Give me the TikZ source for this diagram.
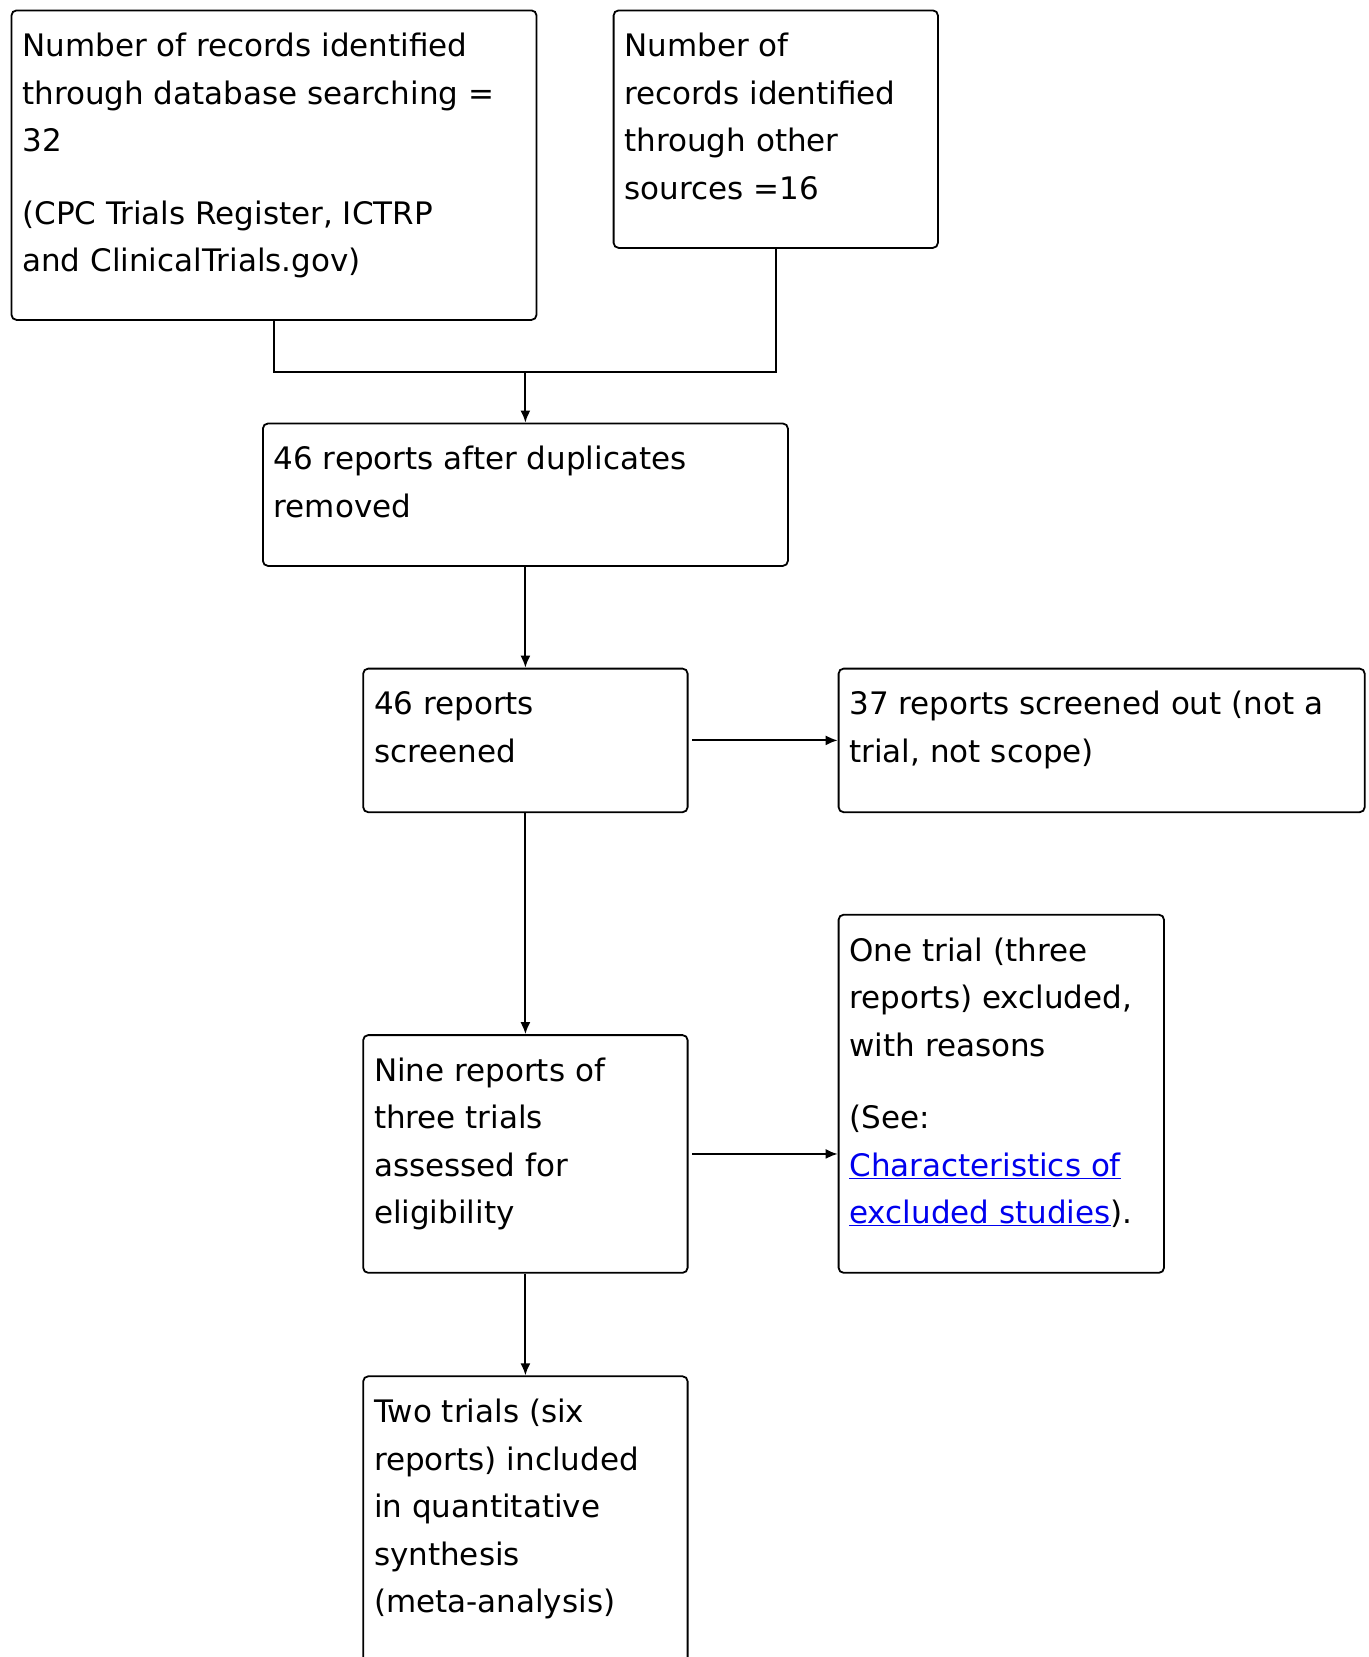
\documentclass[tikz,border=0pt]{standalone}
\usepackage{fontspec}
\setmainfont{DejaVu Sans}
\usetikzlibrary{arrows.meta}
\definecolor{linkblue}{RGB}{0,0,238}
\begin{document}
\begin{tikzpicture}[x=1pt,y=-1pt,
  box/.style={draw, line width=1.8pt, rounded corners=5pt, inner sep=0pt, anchor=north west},
  txt/.style={anchor=north west, inner sep=0pt, align=left, font=\fontsize{31}{47.5}\selectfont},
  conn/.style={line width=2pt},
  arr/.style={line width=2pt, -{Latex[length=12pt,width=10pt]}}]
\useasboundingbox (0,0) rectangle (1368,1657);
\clip (0,0) rectangle (1368,1657);

\node[box, minimum width=525pt,   minimum height=309.5pt] (b1) at (10.6,9.5) {};
\node[box, minimum width=324.3pt, minimum height=237.5pt] (b2) at (612.7,9.5) {};
\node[box, minimum width=525pt,   minimum height=142.4pt] (b3) at (262,422.6) {};
\node[box, minimum width=324.4pt, minimum height=143.6pt] (b4) at (362.3,667.7) {};
\node[box, minimum width=526.1pt, minimum height=143.6pt] (b5) at (837.7,667.7) {};
\node[box, minimum width=324.4pt, minimum height=237.7pt] (b6) at (362.3,1034.2) {};
\node[box, minimum width=325.4pt, minimum height=358.1pt] (b7) at (837.7,913.8) {};
\node[box, minimum width=324.4pt, minimum height=330pt]   (b8) at (362.3,1375.4) {};

\node[txt] (t1) at ([shift={(11.5,13.8)}]b1.north west) {\strut Number of records identified\\ through database searching =\\ 32\\[25pt] (CPC Trials Register, ICTRP\\ and ClinicalTrials.gov)};
\node[txt] (t2) at ([shift={(11.5,13.8)}]b2.north west) {\strut Number of\\ records identified\\ through other\\ sources =16};
\node[txt] (t3) at ([shift={(11.5,13.8)}]b3.north west) {\strut 46 reports after duplicates\\ removed};
\node[txt] (t4) at ([shift={(11.5,13.8)}]b4.north west) {\strut 46 reports\\ screened};
\node[txt] (t5) at ([shift={(11.5,13.8)}]b5.north west) {\strut 37 reports screened out (not a\\ trial, not scope)};
\node[txt] (t6) at ([shift={(11.5,13.8)}]b6.north west) {\strut Nine reports of\\ three trials\\ assessed for\\ eligibility};
\node[txt] (t7) at ([shift={(11.5,13.8)}]b7.north west) {\strut One trial (three\\ reports) excluded,\\ with reasons\\[25pt] (See:\\ \textcolor{linkblue}{\underline{Characteristics of}}\\ \textcolor{linkblue}{\underline{excluded studies}}).};
\node[txt] (t8) at ([shift={(11.5,13.8)}]b8.north west) {\strut Two trials (six\\ reports) included\\ in quantitative\\ synthesis\\ (meta-analysis)};

\coordinate (j) at (b3.north |- 0,372);
\draw[conn] (b1.south) |- (j) -| (b2.south);
\draw[arr] (j) -- (b3.north);
\draw[arr] (b3.south) -- (b4.north);
\draw[arr] ([xshift=3.5pt]b4.east) -- (b5.west);
\draw[arr] (b4.south) -- (b6.north);
\draw[arr] ([xshift=3.5pt]b6.east) -- (b6.east -| b7.west);
\draw[arr] (b6.south) -- (b8.north);
\end{tikzpicture}
\end{document}
